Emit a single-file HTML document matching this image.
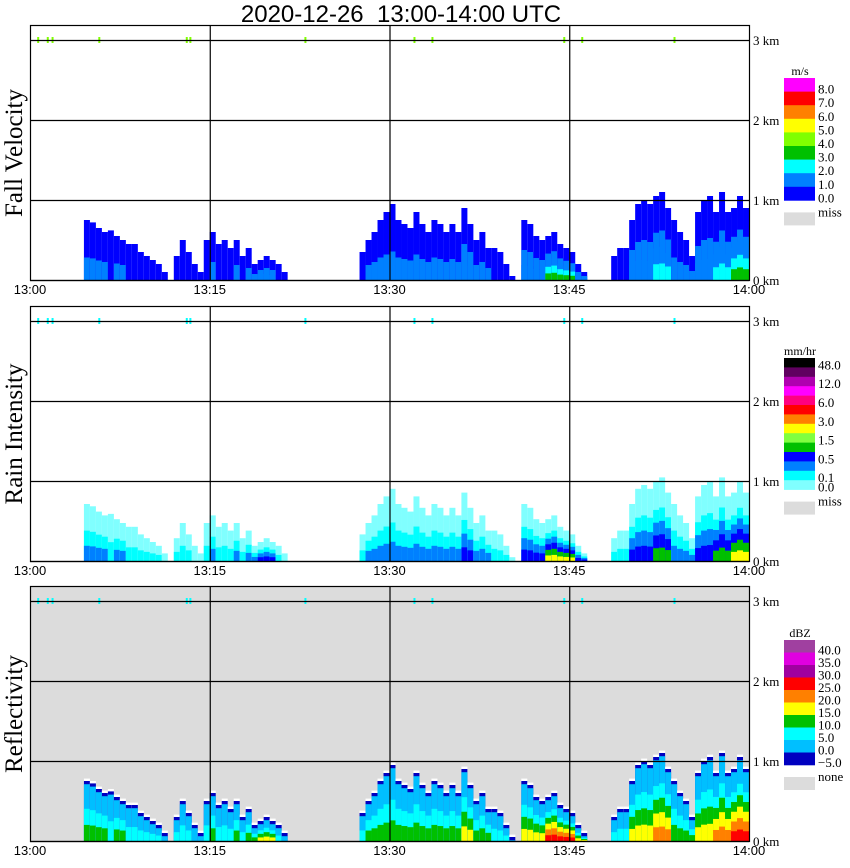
<!DOCTYPE html>
<html><head><meta charset="utf-8">
<style>
html,body{margin:0;padding:0;background:#fff;}
svg{display:block;}
</style></head>
<body>
<svg id="chart" width="850" height="868" xmlns="http://www.w3.org/2000/svg" font-family="Liberation Sans, sans-serif">
<text x="401" y="22" text-anchor="middle" font-size="24" xml:space="preserve" style="white-space:pre">2020-12-26  13:00-14:00 UTC</text>
</svg>
<script>
// ---- data: 0.5-minute bins from 13:00 to 14:00 ----
const binMinutes = 0.5;
const echoTops = [0,0,0,0,0,0,0,0,0,0.75,0.72,0.65,0.6,0.62,0.55,0.5,0.45,0.45,0.35,0.3,
0.25,0.2,0.1,0,0.3,0.5,0.35,0.2,0.1,0.5,0.6,0.45,0.5,0.4,0.5,0.3,0.4,0.2,0.25,0.3,
0.25,0.2,0.1,0,0,0,0,0,0,0,0,0,0,0,0,0.35,0.5,0.6,0.75,0.85,
0.95,0.75,0.7,0.65,0.85,0.7,0.6,0.75,0.7,0.6,0.7,0.6,0.9,0.7,0.5,0.6,0.4,0.4,0.35,0.2,
0.05,0,0.75,0.7,0.55,0.5,0.55,0.6,0.45,0.4,0.35,0.2,0.1,0,0,0,0,0.3,0.4,0.4,
0.75,0.95,1.0,0.95,1.05,1.1,0.9,0.75,0.6,0.5,0.3,0.85,1.0,1.05,0.85,1.1,0.85,0.9,1.05,0.9];
const coreLevel = [0,0,0,0,0,0,0,0,0,2,2,2,2,1,2,2,1,1,1,1,
1,1,0,0,1,1,1,0,0,1,2,1,1,1,2,1,2,2,3,3,
3,1,0,0,0,0,0,0,0,0,0,0,0,0,0,1,2,2,2,2,
2,2,2,2,2,2,2,2,2,2,2,2,3,3,2,2,2,1,1,1,
0,0,3,3,3,3,5,5,5,5,5,3,3,0,0,0,0,1,1,1,
3,3,3,3,4,4,4,2,2,2,2,3,3,3,4,4,4,5,5,5];
const topMarkMinutes = [0.6,1.4,1.8,5.7,13.0,13.3,22.9,32.0,33.5,44.5,46.0,53.7];
const heightTicks = [0,1,2,3];
const timeTicks = ["13:00","13:15","13:30","13:45","14:00"];
const fvScale = ["8.0","7.0","6.0","5.0","4.0","3.0","2.0","1.0","0.0"];
const fvColors = ["#ff00ff","#ff0000","#ff8000","#ffff00","#80ff00","#00c000","#00ffff","#0080ff","#0000ff"];
const riScale = ["48.0","","12.0","","6.0","","3.0","","1.5","","0.5","","0.1","0.0"];
const riColors = ["#000000","#600060","#b000b0","#ff00ff","#ff0080","#ff0000","#ff8000","#ffff00","#80ff40","#00c000","#0000ff","#0080ff","#00ffff","#80ffff"];
const dbzScale = ["40.0","35.0","30.0","25.0","20.0","15.0","10.0","5.0","0.0","\u22125.0"];
const dbzColors = ["#a040a0","#e000e0","#a000a0","#ff0000","#ff8000","#ffff00","#00c000","#00ffff","#00bfff","#0000c0"];

const svg = document.getElementById('chart');
const NS = 'http://www.w3.org/2000/svg';
function el(tag, attrs, parent){const e=document.createElementNS(NS,tag);for(const k in attrs)e.setAttribute(k,attrs[k]);(parent||svg).appendChild(e);return e;}

const X0 = 30, X1 = 749, PXMIN = (X1-X0)/60, KM = 80;
function xOf(min){return X0 + min*PXMIN;}

const panels = [
 {name:'fall-velocity', title:'Fall Velocity', top:25, bg:'#ffffff', offset:1, hscale:0.75,
  bands:['#0000ff','#0080ff','#0080ff','#00ffff','#00c000'], mark:'#80ff00',
  unit:'m/s', scale:fvScale, colors:fvColors, cbTop:78, cbH:13.6, miss:'miss'},
 {name:'rain-intensity', title:'Rain Intensity', top:306, bg:'#ffffff', offset:0, hscale:0.8,
  bands:['#80ffff','#00ffff','#0080ff','#0000ff','#00c000','#ffff00','#ff0000'], mark:'#00ffff',
  unit:'mm/hr', scale:riScale, colors:riColors, cbTop:358, cbH:9.4, miss:'miss'},
 {name:'reflectivity', title:'Reflectivity', top:586, bg:'#dcdcdc', offset:0, hscale:0.85,
  bands:['#00bfff','#00ffff','#00c000','#ffff00','#ff8000','#ff0000'], mark:'#00ffff',
  unit:'dBZ', scale:dbzScale, colors:dbzColors, cbTop:640, cbH:12.5, miss:'none'}
];

panels.forEach((p,pi)=>{
  const g = el('g',{});
  
  
  const base = p.top + 255;
  function yOf(km){return base - km*KM;}
  const bg = el('rect',{x:X0,y:p.top,width:X1-X0,height:255,fill:p.bg},g);
  
  
  echoTops.forEach((t,i)=>{
    if(t<=0) return;
    const x = xOf(i*binMinutes), w = xOf((i+1)*binMinutes)-x;
    const c = Math.max(0, coreLevel[i]-p.offset);
    if(pi===2){
      const e = el('rect',{x:x,y:yOf(t+0.03),width:w,height:(t+0.03)*KM,fill:'#ffffff'},g);
      
      
      const d = el('rect',{x:x,y:yOf(t),width:w,height:t*KM,fill:'#0000c0'},g);
      
      
    }
    const tt = pi===1 ? t*0.95 : (pi===2 ? t-0.04 : t);
    const r = el('rect',{x:x,y:yOf(tt),width:w,height:tt*KM,fill:p.bands[0]},g);
    
    
    for(let k=1;k<=c && k<p.bands.length;k++){
      const h = tt*p.hscale*(c+1-k)/(c+1);
      const b = el('rect',{x:x,y:yOf(h),width:w,height:h*KM,fill:p.bands[k]},g);
      
      
    }
  });
  topMarkMinutes.forEach(m=>{
    const r = el('rect',{x:xOf(m),y:yOf(3)-3,width:2,height:6,fill:p.mark},g);
    
    
  });
  heightTicks.forEach(h=>{
    const l = el('line',{x1:X0,x2:X1,y1:yOf(h)+0.5,y2:yOf(h)+0.5,stroke:'#000','stroke-width':1.2},g);
    
    
    const t = el('text',{x:753,y:yOf(h)+5,'font-size':13,'font-family':'Liberation Serif, serif'},g);
    t.textContent = h+' km';
    
    
  });
  timeTicks.forEach((s,i)=>{
    const x = xOf(i*15);
    if(i>0 && i<4){
      const l = el('line',{x1:x+0.5,x2:x+0.5,y1:p.top,y2:base,stroke:'#000','stroke-width':1.2},g);
      
      
    }
    const t = el('text',{x:x,y:base+14,'font-size':13,'text-anchor':'middle'},g);
    t.textContent = s;
    
    
  });
  const fr = el('rect',{x:X0+0.5,y:p.top+0.5,width:X1-X0,height:255,fill:'none',stroke:'#000','stroke-width':1.2},g);
  
  
  const yt = el('text',{x:0,y:0,'font-size':25,'text-anchor':'middle','font-family':'Liberation Serif, serif',transform:`translate(22,${p.top+128}) rotate(-90)`},g);
  yt.textContent = p.title;
  
  
  const cb = el('g',{},g);
  
  
  const ut = el('text',{x:800,y:p.cbTop-3,'font-size':12,'text-anchor':'middle','font-family':'Liberation Serif, serif'},cb);
  ut.textContent = p.unit;
  
  
  p.colors.forEach((c,i)=>{
    const r = el('rect',{x:784,y:p.cbTop+i*p.cbH,width:31,height:p.cbH+0.3,fill:c},cb);
    
    
    if(p.scale[i]){
      const t = el('text',{x:818,y:p.cbTop+(i+1)*p.cbH+2,'font-size':13,'font-family':'Liberation Serif, serif'},cb);
      t.textContent = p.scale[i];
      
      
    }
  });
  const cbEnd = p.cbTop + p.colors.length*p.cbH;
  const mr = el('rect',{x:784,y:cbEnd+12,width:31,height:13,fill:'#dcdcdc'},cb);
  
  
  const mt = el('text',{x:818,y:cbEnd+16,'font-size':13,'font-family':'Liberation Serif, serif'},cb);
  mt.textContent = p.miss;
  
  
});
</script>
</body></html>
